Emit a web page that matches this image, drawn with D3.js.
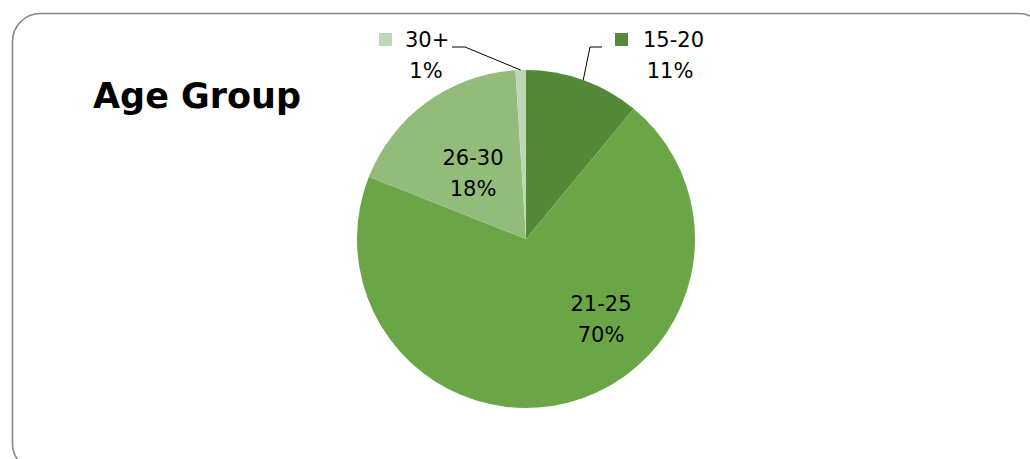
<!DOCTYPE html>
<html>
<head>
<meta charset="utf-8">
<script src="https://cdn.jsdelivr.net/npm/d3@7"></script>
<style>
  html, body { margin: 0; padding: 0; background: #fff; }
  svg { display: block; }
</style>
</head>
<body>
<svg id="chart" width="1030" height="459"></svg>
<script>
// Age distribution shares (percent)
const categories = ["15-20", "21-25", "26-30", "30+"];
const values = [11, 70, 18, 1];
const colors = ["#548939", "#6aa646", "#93bc7a", "#bed7b4"];
const title = "Age Group";

const W = 1030, H = 459;
const cx = 526, cy = 239, R = 169;
const font = "'DejaVu Sans', sans-serif";
const labelSize = 21;

const svg = d3.select("#chart");

// rounded chart frame
svg.append("rect")
  .attr("x", 12.5).attr("y", 13.5)
  .attr("width", 1034).attr("height", 458)
  .attr("rx", 28).attr("ry", 28)
  .attr("fill", "#fff")
  .attr("stroke", "#868686")
  .attr("stroke-width", 1.6);

svg.append("text")
  .attr("x", 93).attr("y", 108)
  .attr("font-family", font)
  .attr("font-weight", "bold")
  .attr("font-size", 35)
  .attr("fill", "#000")
  .text(title);

const pie = d3.pie().sort(null).value(d => d.value);
const data = categories.map((c, i) => ({ cat: c, value: values[i], color: colors[i] }));
const arcs = pie(data);
const arc = d3.arc().innerRadius(0).outerRadius(R);

const g = svg.append("g").attr("transform", `translate(${cx},${cy})`);

g.selectAll("path.slice")
  .data(arcs)
  .join("path")
  .attr("class", "slice")
  .attr("d", arc)
  .attr("fill", d => d.data.color);

const pct = d => `${Math.round(d.value / d3.sum(values) * 100)}%`;

// labels placed inside the two large slices
const inside = {
  "21-25": { dx: 75, dy: 80 },
  "26-30": { dx: -53, dy: -66 }
};
arcs.filter(a => inside[a.data.cat]).forEach(a => {
  const p = inside[a.data.cat];
  const t = g.append("text")
    .attr("font-family", font).attr("font-size", labelSize)
    .attr("text-anchor", "middle").attr("fill", "#000");
  t.append("tspan").attr("x", p.dx).attr("y", p.dy - 8).text(a.data.cat);
  t.append("tspan").attr("x", p.dx).attr("y", p.dy + 23).text(pct(a));
});

// outside labels with legend keys and leader lines
const edgePoint = a => {
  const m = (a.startAngle + a.endAngle) / 2;
  return [Math.sin(m) * R, -Math.cos(m) * R];
};
const outside = {
  "30+": { keyX: 379 - cx, textX: 405 - cx, pctX: 426 - cx, elbowX: 465 - cx, endX: 452 - cx },
  "15-20": { keyX: 615 - cx, textX: 643 - cx, pctX: 670 - cx, elbowX: 590 - cx, endX: 602 - cx }
};
const labelY = 47 - cy;
arcs.filter(a => outside[a.data.cat]).forEach(a => {
  const o = outside[a.data.cat];
  const [ex, ey] = edgePoint(a);
  g.append("path")
    .attr("d", d3.line()([[ex, ey], [o.elbowX, labelY], [o.endX, labelY]]))
    .attr("fill", "none").attr("stroke", "#000").attr("stroke-width", 1);
  g.append("rect")
    .attr("x", o.keyX).attr("y", labelY - 14)
    .attr("width", 13).attr("height", 13)
    .attr("fill", a.data.color);
  g.append("text")
    .attr("x", o.textX).attr("y", labelY)
    .attr("font-family", font).attr("font-size", labelSize).attr("fill", "#000")
    .text(a.data.cat);
  g.append("text")
    .attr("x", o.pctX).attr("y", labelY + 31)
    .attr("text-anchor", "middle")
    .attr("font-family", font).attr("font-size", labelSize).attr("fill", "#000")
    .text(pct(a));
});
</script>
</body>
</html>
